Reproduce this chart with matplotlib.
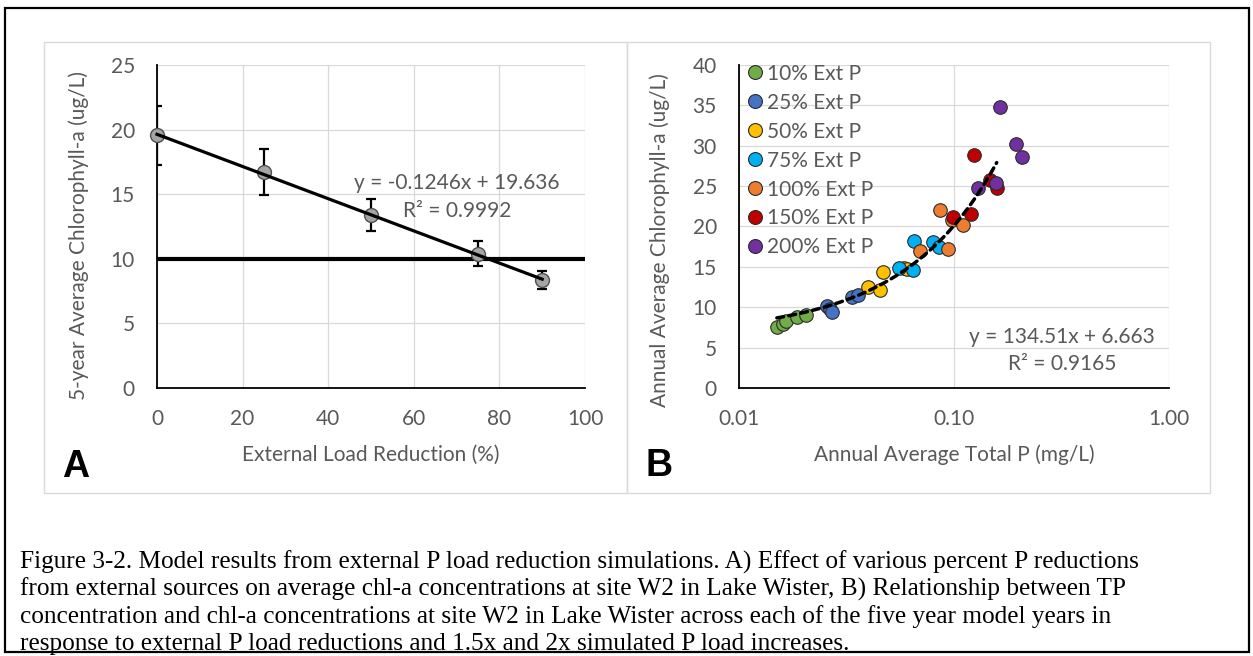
import numpy as np
import matplotlib
matplotlib.use("Agg")
import matplotlib.pyplot as plt
from matplotlib.patches import Rectangle
from matplotlib.lines import Line2D

# Panel A: 5-year average chl-a vs external load reduction
reduction = [0, 25, 50, 75, 90]
chl_mean = [19.55, 16.7, 13.4, 10.4, 8.35]
chl_err = [2.3, 1.8, 1.25, 0.95, 0.68]
fit_a = (-0.1246, 19.636)
target_chl = 10

# Panel B: annual average TP vs chl-a, by external P load scenario
scenarios = ["10% Ext P", "25% Ext P", "50% Ext P", "75% Ext P",
             "100% Ext P", "150% Ext P", "200% Ext P"]
tp = [
    [0.0150, 0.0160, 0.0165, 0.0186, 0.0205],
    [0.0258, 0.0265, 0.0272, 0.0335, 0.0357],
    [0.0400, 0.0454, 0.0467, 0.0585, 0.0604],
    [0.0552, 0.0642, 0.0655, 0.0798, 0.0848],
    [0.0697, 0.0857, 0.0934, 0.0980, 0.1096],
    [0.0989, 0.1200, 0.1243, 0.1476, 0.1586],
    [0.1288, 0.1574, 0.1631, 0.1944, 0.2073],
]
chl = [
    [7.6, 7.9, 8.3, 8.85, 9.05],
    [10.1, 9.8, 9.4, 11.3, 11.5],
    [12.55, 12.14, 14.4, 14.9, 14.7],
    [14.82, 14.61, 18.24, 18.12, 17.5],
    [17.0, 22.04, 17.17, 20.8, 20.19],
    [21.14, 21.55, 28.82, 25.76, 24.73],
    [24.73, 25.43, 34.84, 30.25, 28.65],
]
colors = ["#70ad47", "#4472c4", "#ffc000", "#00b0f0",
          "#ed7d31", "#c00000", "#7030a0"]
fit_b = (134.51, 6.663)
fit_b_range = (0.015, 0.158)

caption = [
    "Figure 3-2. Model results from external P load reduction simulations. A) Effect of various percent P reductions",
    "from external sources on average chl-a concentrations at site W2 in Lake Wister, B) Relationship between TP",
    "concentration and chl-a concentrations at site W2 in Lake Wister across each of the five year model years in",
    "response to external P load reductions and 1.5x and 2x simulated P load increases.",
]

W, H = 1253, 656
FONT = "Lato"
TXT = "#595959"
GRID = "#d9d9d9"
FS = 15

plt.rcParams["font.family"] = [FONT, "DejaVu Sans"]

fig = plt.figure(figsize=(W / 100, H / 100), dpi=100)


def fx(px):
    return px / W


def fy(py):
    return 1 - py / H


# outer frame and the two panel boxes
fig.patches.append(Rectangle((fx(5), fy(652)), fx(1249) - fx(5), fy(8) - fy(652),
                             transform=fig.transFigure, fill=False,
                             edgecolor="black", linewidth=1.6))
for x0, x1 in [(44, 627), (627, 1210)]:
    fig.patches.append(Rectangle((fx(x0), fy(493)), fx(x1) - fx(x0), fy(42) - fy(493),
                                 transform=fig.transFigure, fill=False,
                                 edgecolor=GRID, linewidth=1.0))


def style_axes(ax):
    ax.grid(True, color=GRID, linewidth=0.9)
    ax.set_axisbelow(True)
    for side in ["top", "right"]:
        ax.spines[side].set_visible(False)
    for side in ["left", "bottom"]:
        ax.spines[side].set_linewidth(1.3)
    ax.tick_params(length=0, labelsize=FS, labelcolor=TXT)
    ax.tick_params(axis="y", pad=16)
    ax.tick_params(axis="x", pad=15)


# ---- panel A ----
axA = fig.add_axes([fx(157), fy(388), (585 - 157) / W, 323 / H])
style_axes(axA)
axA.set_xlim(0, 100)
axA.set_ylim(0, 25)
axA.set_xticks(range(0, 101, 20))
axA.set_yticks(range(0, 26, 5))

axA.axhline(target_chl, color="black", linewidth=3, zorder=3)
axA.errorbar(reduction, chl_mean, yerr=chl_err, fmt="none", ecolor="black",
             elinewidth=1.6, capsize=3.5, capthick=1.6, zorder=4)
axA.plot(reduction, chl_mean, "o", markersize=10, markerfacecolor="#a5a5a5",
         markeredgecolor="#505050", markeredgewidth=1.0, clip_on=False, zorder=5)
xa = np.array([reduction[0], reduction[-1]])
axA.plot(xa, fit_a[0] * xa + fit_a[1], color="black", linewidth=2.3,
         zorder=6, clip_on=False)

fig.text(fx(457), fy(183), "y = -0.1246x + 19.636", ha="center", va="center",
         fontsize=FS, color=TXT)
fig.text(fx(457), fy(211), "R² = 0.9992", ha="center", va="center",
         fontsize=FS, color=TXT)
fig.text(fx(371), fy(455), "External Load Reduction (%)", ha="center",
         va="center", fontsize=FS, color=TXT)
fig.text(fx(79), fy(236), "5-year Average Chlorophyll-a (ug/L)", ha="center",
         va="center", rotation=90, fontsize=FS, color=TXT)
fig.text(fx(62), fy(477), "A", ha="left", va="baseline", fontsize=27,
         fontweight="bold", family="Liberation Sans", color="black")

# ---- panel B ----
axB = fig.add_axes([fx(739), fy(388), (1169 - 739) / W, 323 / H])
style_axes(axB)
axB.set_xscale("log")
axB.set_xlim(0.01, 1.0)
axB.set_ylim(0, 40)
axB.set_xticks([0.01, 0.1, 1.0])
axB.set_xticklabels(["0.01", "0.10", "1.00"])
axB.minorticks_off()
axB.set_yticks(range(0, 41, 5))

for name, xs, ys, c in zip(scenarios, tp, chl, colors):
    axB.scatter(xs, ys, s=95, color=c, edgecolor="#2b2b2b", linewidth=0.8,
                zorder=4, label=name)

xb = np.geomspace(fit_b_range[0], fit_b_range[1], 60)
axB.plot(xb, fit_b[0] * xb + fit_b[1], color="black", linewidth=2.5,
         linestyle=(0, (2.0, 1.5)), dash_capstyle="round", zorder=6)

handles = [Line2D([], [], marker="o", linestyle="none", markersize=10,
                  markerfacecolor=c, markeredgecolor="#2b2b2b",
                  markeredgewidth=0.8) for c in colors]
axB.legend(handles, scenarios, loc="upper left",
           bbox_to_anchor=((748.75 - 739) / 430, 1.004), frameon=False,
           fontsize=FS, labelcolor=TXT, handlelength=0.6, handletextpad=0.28,
           labelspacing=0.43, borderpad=0, borderaxespad=0)

fig.text(fx(1062), fy(337), "y = 134.51x + 6.663", ha="center", va="center",
         fontsize=FS, color=TXT)
fig.text(fx(1062), fy(364), "R² = 0.9165", ha="center", va="center",
         fontsize=FS, color=TXT)
fig.text(fx(954), fy(455), "Annual Average Total P (mg/L)", ha="center",
         va="center", fontsize=FS, color=TXT)
fig.text(fx(660), fy(240), "Annual Average Chlorophyll-a (ug/L)", ha="center",
         va="center", rotation=90, fontsize=FS, color=TXT)
fig.text(fx(646), fy(476), "B", ha="left", va="baseline", fontsize=27,
         fontweight="bold", family="Liberation Sans", color="black")

# ---- caption ----
for i, line in enumerate(caption):
    fig.text(fx(20), fy(562 + 27.3 * i), line, ha="left", va="center",
             fontsize=18.2, family="Liberation Serif", color="black")

fig.savefig("out.png", dpi=100)
